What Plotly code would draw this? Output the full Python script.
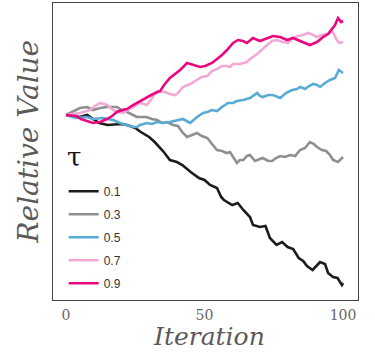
import plotly.graph_objects as go

tau_labels = ["0.1", "0.3", "0.5", "0.7", "0.9"]
colors = ["#1c1c1c", "#8f8f8f", "#5aaad6", "#f2aad4", "#e8087f"]

iter_01 = [0, 5, 7.6, 10, 12, 15, 20, 22, 25, 27, 30, 32, 35, 37.5, 40, 42, 45, 48, 50, 52,
           54.5, 56, 57, 60, 62, 64, 66.4, 67.5, 70, 72, 73.6, 76, 78, 80, 82, 84, 85.6, 87,
           89, 91.7, 93.5, 94.6, 96.4, 98, 99.6, 100]
val_01 = [0, -0.02, 0.0, -0.04, -0.08, -0.1, -0.09, -0.1, -0.13, -0.17, -0.22, -0.27, -0.36,
          -0.45, -0.47, -0.50, -0.57, -0.63, -0.65, -0.70, -0.73, -0.82, -0.85, -0.90, -0.88,
          -0.95, -1.02, -1.10, -1.12, -1.11, -1.23, -1.30, -1.27, -1.32, -1.34, -1.43, -1.46,
          -1.51, -1.55, -1.47, -1.49, -1.58, -1.62, -1.63, -1.70, -1.68]

iter_03 = [0, 5, 7.6, 9.7, 12.3, 14.8, 18.4, 20, 22, 24, 25.6, 27.8, 29, 31, 32.9, 34.7, 36.5,
           38.6, 40.4, 42.2, 43.7, 45.5, 47.3, 49, 51, 52.7, 54.5, 56.3, 58, 59.2, 60.3, 61.7,
           62.8, 64, 65.3, 66.4, 68.2, 70, 71, 73, 74.4, 75.8, 77.3, 79, 80.9, 82.7, 84.5,
           86.3, 88, 89.5, 90.6, 92.4, 93.9, 95.3, 96.4, 98.2, 99.3, 100]
val_03 = [0, 0.07, 0.08, 0.05, 0.07, 0.08, 0.08, 0.05, 0.03, 0.0, -0.02, -0.02, -0.02, -0.04,
          -0.05, -0.08, -0.07, -0.10, -0.11, -0.18, -0.22, -0.20, -0.18, -0.21, -0.23, -0.29,
          -0.35, -0.36, -0.38, -0.37, -0.42, -0.48, -0.45, -0.45, -0.41, -0.40, -0.46, -0.44,
          -0.43, -0.46, -0.46, -0.43, -0.41, -0.42, -0.40, -0.41, -0.35, -0.33, -0.27, -0.29,
          -0.32, -0.35, -0.36, -0.40, -0.45, -0.47, -0.44, -0.42]

iter_05 = [0, 3.6, 7.6, 9.7, 13.4, 17, 19.5, 22, 24.2, 25.6, 26.7, 29.2, 31, 32.9, 35, 37.5,
           40, 42.2, 44.8, 47.3, 49.5, 51, 52.7, 54.5, 56.3, 58.5, 60.3, 61.7, 64, 66.4, 69,
           70, 71, 73, 74.7, 77.3, 79.4, 81.6, 83.4, 84.5, 86.3, 87.7, 89.2, 90.6, 91.7, 93.5,
           95.3, 97.1, 98.5, 99.3, 100]
val_05 = [0, -0.03, -0.02, -0.04, -0.03, -0.05, -0.08, -0.10, -0.12, -0.12, -0.10, -0.08,
          -0.09, -0.07, -0.08, -0.07, -0.05, -0.04, -0.08, -0.02, 0.02, 0.03, 0.05, 0.04,
          0.08, 0.12, 0.12, 0.14, 0.15, 0.17, 0.22, 0.19, 0.18, 0.20, 0.20, 0.17, 0.22, 0.25,
          0.26, 0.28, 0.26, 0.29, 0.31, 0.30, 0.28, 0.32, 0.35, 0.37, 0.45, 0.43, 0.42]

iter_07 = [0, 5, 8.7, 10.5, 12.3, 14.8, 17, 18.8, 20.6, 22.4, 24.2, 26.7, 29.2, 31.4, 32.9,
           34, 35.7, 37.5, 39.4, 40.4, 42.2, 44.8, 47.3, 49, 51, 52.7, 54.5, 56.3, 58, 59.2,
           60.3, 62.8, 65.3, 66.4, 69, 70.8, 72.6, 74.4, 76.2, 78.3, 80.1, 81.9, 83.8, 85.6,
           87.4, 89.2, 90.6, 92.4, 94.2, 96.4, 97.5, 98.6, 100]
val_07 = [0, 0.02, 0.05, 0.09, 0.12, 0.10, 0.05, 0.03, 0.02, 0.05, 0.08, 0.12, 0.10, 0.18,
          0.24, 0.23, 0.23, 0.21, 0.20, 0.22, 0.28, 0.31, 0.35, 0.38, 0.39, 0.44, 0.46, 0.49,
          0.49, 0.48, 0.51, 0.51, 0.53, 0.56, 0.61, 0.66, 0.70, 0.74, 0.75, 0.73, 0.72, 0.77,
          0.79, 0.80, 0.82, 0.80, 0.78, 0.80, 0.81, 0.83, 0.76, 0.72, 0.73]

iter_09 = [0, 3.6, 5.4, 7.6, 9.7, 12.3, 14.8, 16.6, 18.4, 20.2, 22, 24.2, 26.7, 29.2, 31.4,
           34, 35.4, 37.5, 39.4, 41.2, 43.7, 45.8, 48.4, 50.2, 52.7, 54.5, 56.3, 58.1, 60.3,
           62.1, 63.9, 65.3, 67.5, 70, 72.6, 74.7, 77.3, 79.8, 81.9, 84.5, 86.3, 88, 90.6,
           92.8, 94.6, 96, 97.1, 98.2, 99.3, 100]
val_09 = [0, -0.01, -0.04, -0.06, -0.08, -0.07, -0.04, -0.01, 0.03, 0.05, 0.06, 0.10, 0.14,
          0.18, 0.21, 0.24, 0.30, 0.37, 0.41, 0.45, 0.52, 0.50, 0.48, 0.49, 0.52, 0.56, 0.60,
          0.65, 0.72, 0.75, 0.74, 0.72, 0.77, 0.74, 0.77, 0.79, 0.78, 0.75, 0.77, 0.74, 0.72,
          0.70, 0.73, 0.78, 0.81, 0.86, 0.90, 0.97, 0.93, 0.94]

xs = [iter_01, iter_03, iter_05, iter_07, iter_09]
ys = [val_01, val_03, val_05, val_07, val_09]

x_tick_vals = [0, 50, 100]
x_tick_text = ["0", "50", "100"]

fig = go.Figure()
for lab, col, x, y in zip(tau_labels, colors, xs, ys):
    fig.add_trace(go.Scatter(x=x, y=y, mode="lines", name=lab, legendgroup=lab,
                             line=dict(color=col, width=2.6)))

serif = "DejaVu Serif"
fig.update_layout(
    width=375, height=354,
    margin=dict(l=53, r=17, t=3, b=54),
    paper_bgcolor="white", plot_bgcolor="white",
    showlegend=True,
    legend=dict(
        x=0.035, y=0.415, xanchor="left", yanchor="top",
        bgcolor="rgba(0,0,0,0)",
        font=dict(family="Liberation Sans", size=12, color="#333333"),
        tracegroupgap=4,
        itemwidth=30,
    ),
    xaxis=dict(range=[-4.7, 105.4], showgrid=False, zeroline=False,
               tickmode="array", tickvals=x_tick_vals, ticktext=x_tick_text,
               ticks="outside", ticklen=2, tickcolor="rgba(0,0,0,0)",
               tickfont=dict(family=serif, size=14, color="#666666"),
               showline=True, mirror=True, linecolor="#444444", linewidth=1.2),
    yaxis=dict(range=[-1.85, 1.12], showgrid=False, zeroline=False,
               showticklabels=False, ticks="",
               showline=True, mirror=True, linecolor="#444444", linewidth=1.2),
    annotations=[
        dict(text="τ", xref="paper", yref="paper", x=0.04, y=(300 - 157) / 297,
             xanchor="left", yanchor="middle", showarrow=False,
             font=dict(family=serif, size=26, color="#111111")),
        dict(text="<i>Iteration</i>", xref="paper", yref="paper", x=0.51, y=-0.1785,
             xanchor="center", yanchor="bottom", showarrow=False,
             font=dict(family=serif, size=25, color="#5a5a5a")),
        dict(text="<i>Relative Value</i>", xref="paper", yref="paper", x=-0.02, y=0.535,
             xanchor="right", yanchor="middle", textangle=-90, showarrow=False,
             font=dict(family=serif, size=28, color="#5a5a5a")),
    ],
)

fig.write_html("out.html", config={"displayModeBar": False},
               post_script="document.body.style.margin='0';")
